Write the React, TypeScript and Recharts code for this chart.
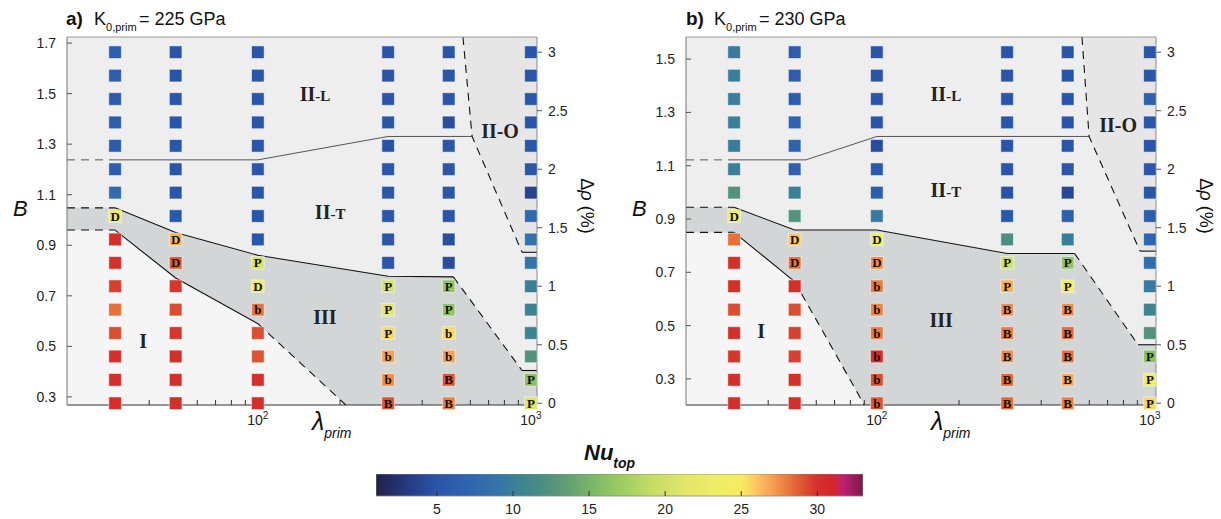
import React from "react";
import { ComposedChart, Scatter, XAxis, YAxis, ReferenceLine, Label, BarChart, Bar } from "recharts";

const SANS = "'Liberation Sans', Arial, Helvetica, sans-serif";
const SERIF = "'Liberation Serif', 'Times New Roman', serif";

// model grid: lambda_prim columns, delta-rho rows (top to bottom)
const LAMBDA = [30, 50, 100, 300, 500, 1000];
const DRHO = [3.0, 2.8, 2.6, 2.4, 2.2, 2.0, 1.8, 1.6, 1.4, 1.2, 1.0, 0.8, 0.6, 0.4, 0.2, 0];

const X_TICKS = [30, 40, 50, 60, 70, 80, 90, 100, 200, 300, 400, 500, 600, 700, 800, 900, 1000];
const X_LABELS: Record<number, string> = { 100: "2", 1000: "3" };
const DRHO_TICKS = [0, 0.5, 1, 1.5, 2, 2.5, 3];
const B_TICKS_A = [0.3, 0.5, 0.7, 0.9, 1.1, 1.3, 1.5, 1.7];
const B_TICKS_B = [0.3, 0.5, 0.7, 0.9, 1.1, 1.3, 1.5];
const NU_TICKS = [5, 10, 15, 20, 25, 30];
const NU_RANGE = [1, 33];

const X_DOMAIN = [20, 1053];
const DRHO_DOMAIN = [-0.015, 3.13];
const B_DOMAIN_A = [0.268, 1.724];
const B_DOMAIN_B = [0.202, 1.583];

// Nu_top per column (same order as LAMBDA), K0,prim = 225 GPa
const NU_A = [
  [6.0, 6.0, 5.8, 6.0, 5.8, 6.0, 7.8, 23, 30, 30, 29.6, 28.3, 29.2, 30, 30, 30],
  [5.0, 5.0, 5.0, 5.0, 5.0, 5.0, 5.0, 5.5, 26.5, 28.8, 29.8, 29.2, 29.8, 30, 30, 30],
  [5.0, 5.0, 5.0, 5.0, 5.0, 5.0, 5.0, 5.0, 5.0, 20.5, 23, 28.2, 29.2, 29.0, 30, 30],
  [5.0, 5.0, 5.0, 5.0, 4.8, 5.0, 5.0, 5.0, 5.0, 5.0, 20.5, 21.5, 25.5, 27, 27.5, 29],
  [5.0, 5.0, 5.0, 4.5, 5.0, 5.0, 5.0, 5.0, 4.5, 4.5, 16.5, 16.5, 25.5, 27, 29, 27.8],
  [5.0, 5.2, 5.2, 5.0, 5.2, 5.2, 3.8, 7.5, 8.8, 8.8, 10, 10.5, 10.5, 12.5, 16, 21],
];
// regime tag of each run, "." = none
const TAG_A = [
  ".......D........",
  "........DD......",
  ".........PDb....",
  "..........PPPbbB",
  "..........PPbbBB",
  "..............PP",
];

// K0,prim = 230 GPa
const NU_B = [
  [9.6, 10, 9.8, 10, 9.8, 10, 12.5, 23, 28.3, 30, 30, 29.2, 30, 29.8, 30, 30],
  [6.0, 6.0, 6.0, 7.0, 7.0, 6.5, 10, 12.5, 26, 28.2, 30, 29.2, 29.6, 29.6, 30, 30],
  [5.0, 5.0, 5.0, 5.0, 4.3, 5.5, 6.0, 9.5, 23, 27.5, 28, 27.7, 28, 30.3, 29.2, 29],
  [5.0, 5.0, 5.0, 5.0, 5.0, 5.0, 4.8, 5.5, 12, 20, 26.5, 27.5, 28, 27.5, 28.5, 28.5],
  [5.0, 5.0, 5.0, 5.0, 5.0, 5.0, 4.0, 6.5, 10, 16.5, 24.5, 27.5, 28.4, 28.2, 26.8, 27.8],
  [5.0, 5.2, 6.5, 5.0, 5.0, 5.0, 5.0, 6.0, 7.0, 8.0, 9.5, 10.5, 12.5, 16, 23, 25.5],
];
const TAG_B = [
  ".......D........",
  "........DD......",
  "........DDbbbbbb",
  ".........PPBBBBB",
  ".........PPBBBBB",
  ".............PPP",
];

// regime fields as outlines in (lambda, delta-rho)
const FIELD_III_A = [[20, 1.67], [30, 1.67], [50, 1.46], [100, 1.265], [300, 1.085], [520, 1.08], [928, 0.28], [1053, 0.28], [1053, -0.015], [210, -0.015], [100, 0.68], [50, 1.07], [30, 1.48], [20, 1.48]];
const FIELD_I_A = [[20, 1.48], [30, 1.48], [50, 1.07], [100, 0.68], [210, -0.015], [20, -0.015]];
const FIELD_IIO_A = [[564, 3.13], [1053, 3.13], [1053, 1.29], [928, 1.29], [609, 2.28]];

const FIELD_III_B = [[20, 1.675], [30, 1.675], [50, 1.48], [100, 1.48], [300, 1.28], [530, 1.28], [905, 0.5], [1053, 0.5], [1053, -0.015], [90, -0.015], [50, 1.04], [30, 1.46], [20, 1.46]];
const FIELD_I_B = [[20, 1.46], [30, 1.46], [50, 1.04], [90, -0.015], [20, -0.015]];
const FIELD_IIO_B = [[564, 3.13], [1053, 3.13], [1053, 1.3], [920, 1.3], [599, 2.28]];

// boundary segments, dashed where the transition is inferred
const EDGES_A = [
  { pts: [[20, 2.08], [30, 2.08]], dash: true, thin: true },
  { pts: [[30, 2.08], [100, 2.08], [300, 2.28], [609, 2.28]], thin: true },
  { pts: [[564, 3.13], [609, 2.28], [928, 1.29]], dash: true },
  { pts: [[928, 1.29], [1053, 1.29]] },
  { pts: [[20, 1.67], [30, 1.67]], dash: true },
  { pts: [[30, 1.67], [50, 1.46], [100, 1.265], [300, 1.085], [520, 1.08]] },
  { pts: [[520, 1.08], [928, 0.28]], dash: true },
  { pts: [[928, 0.28], [1053, 0.28]] },
  { pts: [[20, 1.48], [30, 1.48]], dash: true },
  { pts: [[30, 1.48], [50, 1.07], [100, 0.68]] },
  { pts: [[100, 0.68], [210, -0.015]], dash: true },
];
const EDGES_B = [
  { pts: [[20, 2.08], [30, 2.08]], dash: true, thin: true },
  { pts: [[30, 2.08], [55, 2.08], [100, 2.28], [599, 2.28]], thin: true },
  { pts: [[564, 3.13], [599, 2.28], [920, 1.3]], dash: true },
  { pts: [[920, 1.3], [1053, 1.3]] },
  { pts: [[20, 1.675], [30, 1.675]], dash: true },
  { pts: [[30, 1.675], [50, 1.48], [100, 1.48], [300, 1.28], [530, 1.28]] },
  { pts: [[530, 1.28], [905, 0.5]], dash: true },
  { pts: [[905, 0.5], [1053, 0.5]] },
  { pts: [[20, 1.46], [30, 1.46]], dash: true },
  { pts: [[30, 1.46], [50, 1.04]] },
  { pts: [[50, 1.04], [90, -0.015]], dash: true },
];

// regime names, placed in (lambda, B)
const NAMES_A = [
  { lam: 162, B: 1.469, main: "II", sub: "-L" },
  { lam: 184, B: 1.002, main: "II", sub: "-T" },
  { lam: 176, B: 0.59, main: "III", sub: "" },
  { lam: 38, B: 0.4925, main: "I", sub: "" },
  { lam: 771, B: 1.3236, main: "II-O", sub: "" },
];
const NAMES_B = [
  { lam: 179, B: 1.3415, main: "II", sub: "-L" },
  { lam: 179, B: 0.9814, main: "II", sub: "-T" },
  { lam: 172, B: 0.494, main: "III", sub: "" },
  { lam: 37.7, B: 0.4545, main: "I", sub: "" },
  { lam: 765, B: 1.2256, main: "II-O", sub: "" },
];

// Nu_top colour scale
const NU_CMAP: [number, string][] = [
  [1, "#231f48"], [3, "#243a80"], [5, "#2a55a8"], [7, "#2f64b0"], [9, "#3574a8"],
  [10, "#3a7f98"], [11.5, "#478a86"], [13, "#5a9678"], [15, "#78b46a"], [17, "#9acb62"],
  [19, "#c2dc66"], [21, "#e0e56a"], [23, "#eeec68"], [25, "#f7ec60"], [26, "#fdc462"],
  [27, "#f7a052"], [28, "#ea7a3e"], [29, "#dc5532"], [30, "#d3302b"], [31, "#d4262a"],
  [31.7, "#c02070"], [33, "#7a1a4c"],
];

function hexRgb(h: string) {
  const n = parseInt(h.slice(1), 16);
  return [(n >> 16) & 255, (n >> 8) & 255, n & 255];
}

function nuColor(v: number) {
  if (v <= NU_CMAP[0][0]) return NU_CMAP[0][1];
  for (let i = 1; i < NU_CMAP.length; i++) {
    const [v1, c1] = NU_CMAP[i];
    if (v <= v1) {
      const [v0, c0] = NU_CMAP[i - 1];
      const t = (v - v0) / (v1 - v0);
      const a = hexRgb(c0);
      const b = hexRgb(c1);
      const m = a.map((x, k) => Math.round(x + (b[k] - x) * t));
      return `rgb(${m[0]},${m[1]},${m[2]})`;
    }
  }
  return NU_CMAP[NU_CMAP.length - 1][1];
}

const toPts = (list: number[][]) => list.map(([lam, rho]) => ({ lam, rho }));
const noDot = () => <g />;

function fieldShape(fill: string) {
  return (p: any) => {
    const d = (p.points || []).map((q: any, i: number) => `${i ? "L" : "M"}${q.x},${q.y}`).join("") + "Z";
    return <path d={d} fill={fill} stroke="none" />;
  };
}

const RunMarker = (p: any) => {
  const { cx, cy, payload } = p;
  return (
    <g>
      <rect x={cx - 6.3} y={cy - 6.3} width={12.6} height={12.6} fill={nuColor(payload.nu)} stroke="#ffffff" strokeOpacity={0.5} strokeWidth={1} />
      {payload.tag && (
        <text x={cx} y={cy + 4.6} textAnchor="middle" fontFamily={SERIF} fontWeight="bold" fontSize={13} fill="#111">
          {payload.tag}
        </text>
      )}
    </g>
  );
};

const FieldName = (p: any) => {
  const { cx, cy, payload } = p;
  return (
    <text x={cx} y={cy} textAnchor="middle" fontFamily={SERIF} fontWeight="bold" fontSize={20} fill="#222">
      {payload.main}
      {payload.sub && <tspan fontSize={15}>{payload.sub}</tspan>}
    </text>
  );
};

const LogTick = (p: any) => {
  const e = X_LABELS[p.payload.value];
  if (!e) return <g />;
  return (
    <text x={p.x} y={p.y} textAnchor="middle" fontFamily={SANS} fontSize={14} fill="#222">
      10<tspan fontSize={10} dy={-6}>{e}</tspan>
    </text>
  );
};

const lamLabel = (p: any) => {
  const vb = p.viewBox;
  return (
    <text x={vb.x + 245} y={vb.y + 25} fontFamily={SANS} fill="#111">
      <tspan fontSize={25} fontStyle="italic">λ</tspan>
      <tspan fontSize={14} fontStyle="italic" dy={8}>prim</tspan>
    </text>
  );
};

const bLabel = (p: any) => {
  const vb = p.viewBox;
  return (
    <text x={vb.x + 13} y={vb.y + 179} fontFamily={SANS} fontSize={22} fontStyle="italic" fill="#111">
      B
    </text>
  );
};

const rhoLabel = (p: any) => {
  const vb = p.viewBox;
  const cx = vb.x + 44;
  const cy = vb.y + 169;
  return (
    <text x={cx} y={cy} transform={`rotate(90 ${cx} ${cy})`} textAnchor="middle" fontFamily={SANS} fontSize={18} fill="#111">
      Δ<tspan fontStyle="italic">ρ</tspan> (%)
    </text>
  );
};

function Panel({ nu, tags, bDomain, bTicks, fields, edges, names }: any) {
  const runs = LAMBDA.flatMap((lam, i) =>
    DRHO.map((rho, j) => ({ lam, rho, nu: nu[i][j], tag: tags[i][j] === "." ? "" : tags[i][j] }))
  );
  return (
    <ComposedChart width={600} height={450} margin={{ top: 37, right: 0, bottom: 0, left: 0 }}>
      {fields.map((f: any, i: number) => (
        <Scatter key={`f${i}`} yAxisId="rho" data={toPts(f.outline)} shape={noDot} line={fieldShape(f.fill)} zIndex={-20} isAnimationActive={false} />
      ))}
      {edges.map((e: any, i: number) => (
        <Scatter
          key={`e${i}`}
          yAxisId="rho"
          data={toPts(e.pts)}
          shape={noDot}
          line={{ stroke: e.thin ? "#444" : "#111", strokeWidth: e.thin ? 0.9 : 1.1, strokeDasharray: e.dash ? "8 6" : undefined }}
          zIndex={-10}
          isAnimationActive={false}
        />
      ))}
      <ReferenceLine yAxisId="rho" y={DRHO_DOMAIN[1]} stroke="#999" strokeWidth={1} />
      <XAxis
        dataKey="lam"
        type="number"
        scale="log"
        domain={X_DOMAIN}
        ticks={X_TICKS}
        interval={0}
        height={45}
        tickSize={-5}
        tickMargin={25}
        tick={<LogTick />}
        axisLine={{ stroke: "#333" }}
        tickLine={{ stroke: "#333" }}
      >
        <Label content={lamLabel} />
      </XAxis>
      <YAxis
        yAxisId="B"
        dataKey="B"
        orientation="left"
        type="number"
        domain={bDomain}
        ticks={bTicks}
        interval={0}
        width={67}
        tickSize={-5}
        tickMargin={16}
        tickFormatter={(v: number) => v.toFixed(1)}
        tick={{ fontSize: 14, fill: "#222", fontFamily: SANS }}
        axisLine={{ stroke: "#777" }}
        tickLine={{ stroke: "#555" }}
      >
        <Label content={bLabel} />
      </YAxis>
      <YAxis
        yAxisId="rho"
        dataKey="rho"
        orientation="right"
        type="number"
        domain={DRHO_DOMAIN}
        ticks={DRHO_TICKS}
        interval={0}
        width={63}
        tickSize={5}
        tickMargin={6}
        tick={{ fontSize: 14, fill: "#222", fontFamily: SANS }}
        axisLine={{ stroke: "#888" }}
        tickLine={{ stroke: "#555" }}
      >
        <Label content={rhoLabel} />
      </YAxis>
      <Scatter yAxisId="rho" data={runs} shape={RunMarker} isAnimationActive={false} />
      <Scatter yAxisId="B" data={names} shape={FieldName} isAnimationActive={false} />
    </ComposedChart>
  );
}

function ColorBar() {
  return (
    <BarChart layout="vertical" width={487} height={52} data={[{ name: "Nu", span: NU_RANGE }]} margin={{ top: 0, right: 0, bottom: 0, left: 0 }} barCategoryGap={0}>
      <defs>
        <linearGradient id="nuGrad" x1="0" x2="1" y1="0" y2="0">
          {NU_CMAP.map(([v, c]) => (
            <stop key={v} offset={(v - NU_RANGE[0]) / (NU_RANGE[1] - NU_RANGE[0])} stopColor={c} />
          ))}
        </linearGradient>
      </defs>
      <YAxis type="category" dataKey="name" hide />
      <Bar dataKey="span" fill="url(#nuGrad)" stroke="#888" strokeWidth={0.8} isAnimationActive={false} />
      <XAxis
        type="number"
        domain={NU_RANGE}
        ticks={NU_TICKS}
        interval={0}
        height={30}
        tickSize={-5}
        tickMargin={13}
        axisLine={false}
        tickLine={{ stroke: "#333" }}
        tick={{ fontSize: 14, fill: "#222", fontFamily: SANS }}
      />
    </BarChart>
  );
}

function PanelTitle({ x, tag, k }: { x: number; tag: string; k: string }) {
  return (
    <text y={25} fontFamily={SANS} fill="#111">
      <tspan x={x} fontSize={19} fontWeight="bold">{tag}</tspan>
      <tspan x={x + 28} fontSize={18}>K</tspan>
      <tspan fontSize={11} dy={6}>0,prim</tspan>
      <tspan x={x + 73} dy={-6} fontSize={18}>= {k} GPa</tspan>
    </text>
  );
}

export default function App() {
  return (
    <div style={{ position: "absolute", left: 0, top: 0, width: 1221, height: 519, background: "#fff", overflow: "hidden" }}>
      <div style={{ position: "absolute", left: 0, top: 0 }}>
        <Panel
          nu={NU_A}
          tags={TAG_A}
          bDomain={B_DOMAIN_A}
          bTicks={B_TICKS_A}
          fields={[
            { outline: [[20, DRHO_DOMAIN[0]], [1053, DRHO_DOMAIN[0]], [1053, DRHO_DOMAIN[1]], [20, DRHO_DOMAIN[1]]], fill: "#eeeeee" },
            { outline: FIELD_IIO_A, fill: "#e6e6e6" },
            { outline: FIELD_I_A, fill: "#f5f5f5" },
            { outline: FIELD_III_A, fill: "#d3d6d7" },
          ]}
          edges={EDGES_A}
          names={NAMES_A}
        />
      </div>
      <div style={{ position: "absolute", left: 619, top: 0 }}>
        <Panel
          nu={NU_B}
          tags={TAG_B}
          bDomain={B_DOMAIN_B}
          bTicks={B_TICKS_B}
          fields={[
            { outline: [[20, DRHO_DOMAIN[0]], [1053, DRHO_DOMAIN[0]], [1053, DRHO_DOMAIN[1]], [20, DRHO_DOMAIN[1]]], fill: "#eeeeee" },
            { outline: FIELD_IIO_B, fill: "#e6e6e6" },
            { outline: FIELD_I_B, fill: "#f5f5f5" },
            { outline: FIELD_III_B, fill: "#d3d6d7" },
          ]}
          edges={EDGES_B}
          names={NAMES_B}
        />
      </div>
      <div style={{ position: "absolute", left: 376, top: 474 }}>
        <ColorBar />
      </div>
      <svg width={1221} height={519} style={{ position: "absolute", left: 0, top: 0, pointerEvents: "none" }}>
        <PanelTitle x={66} tag="a)" k="225" />
        <PanelTitle x={686} tag="b)" k="230" />
        <text x={584} y={460} fontFamily={SANS} fontWeight="bold" fontStyle="italic" fontSize={22} fill="#111">
          Nu<tspan fontSize={14} dy={8}>top</tspan>
        </text>
      </svg>
    </div>
  );
}
